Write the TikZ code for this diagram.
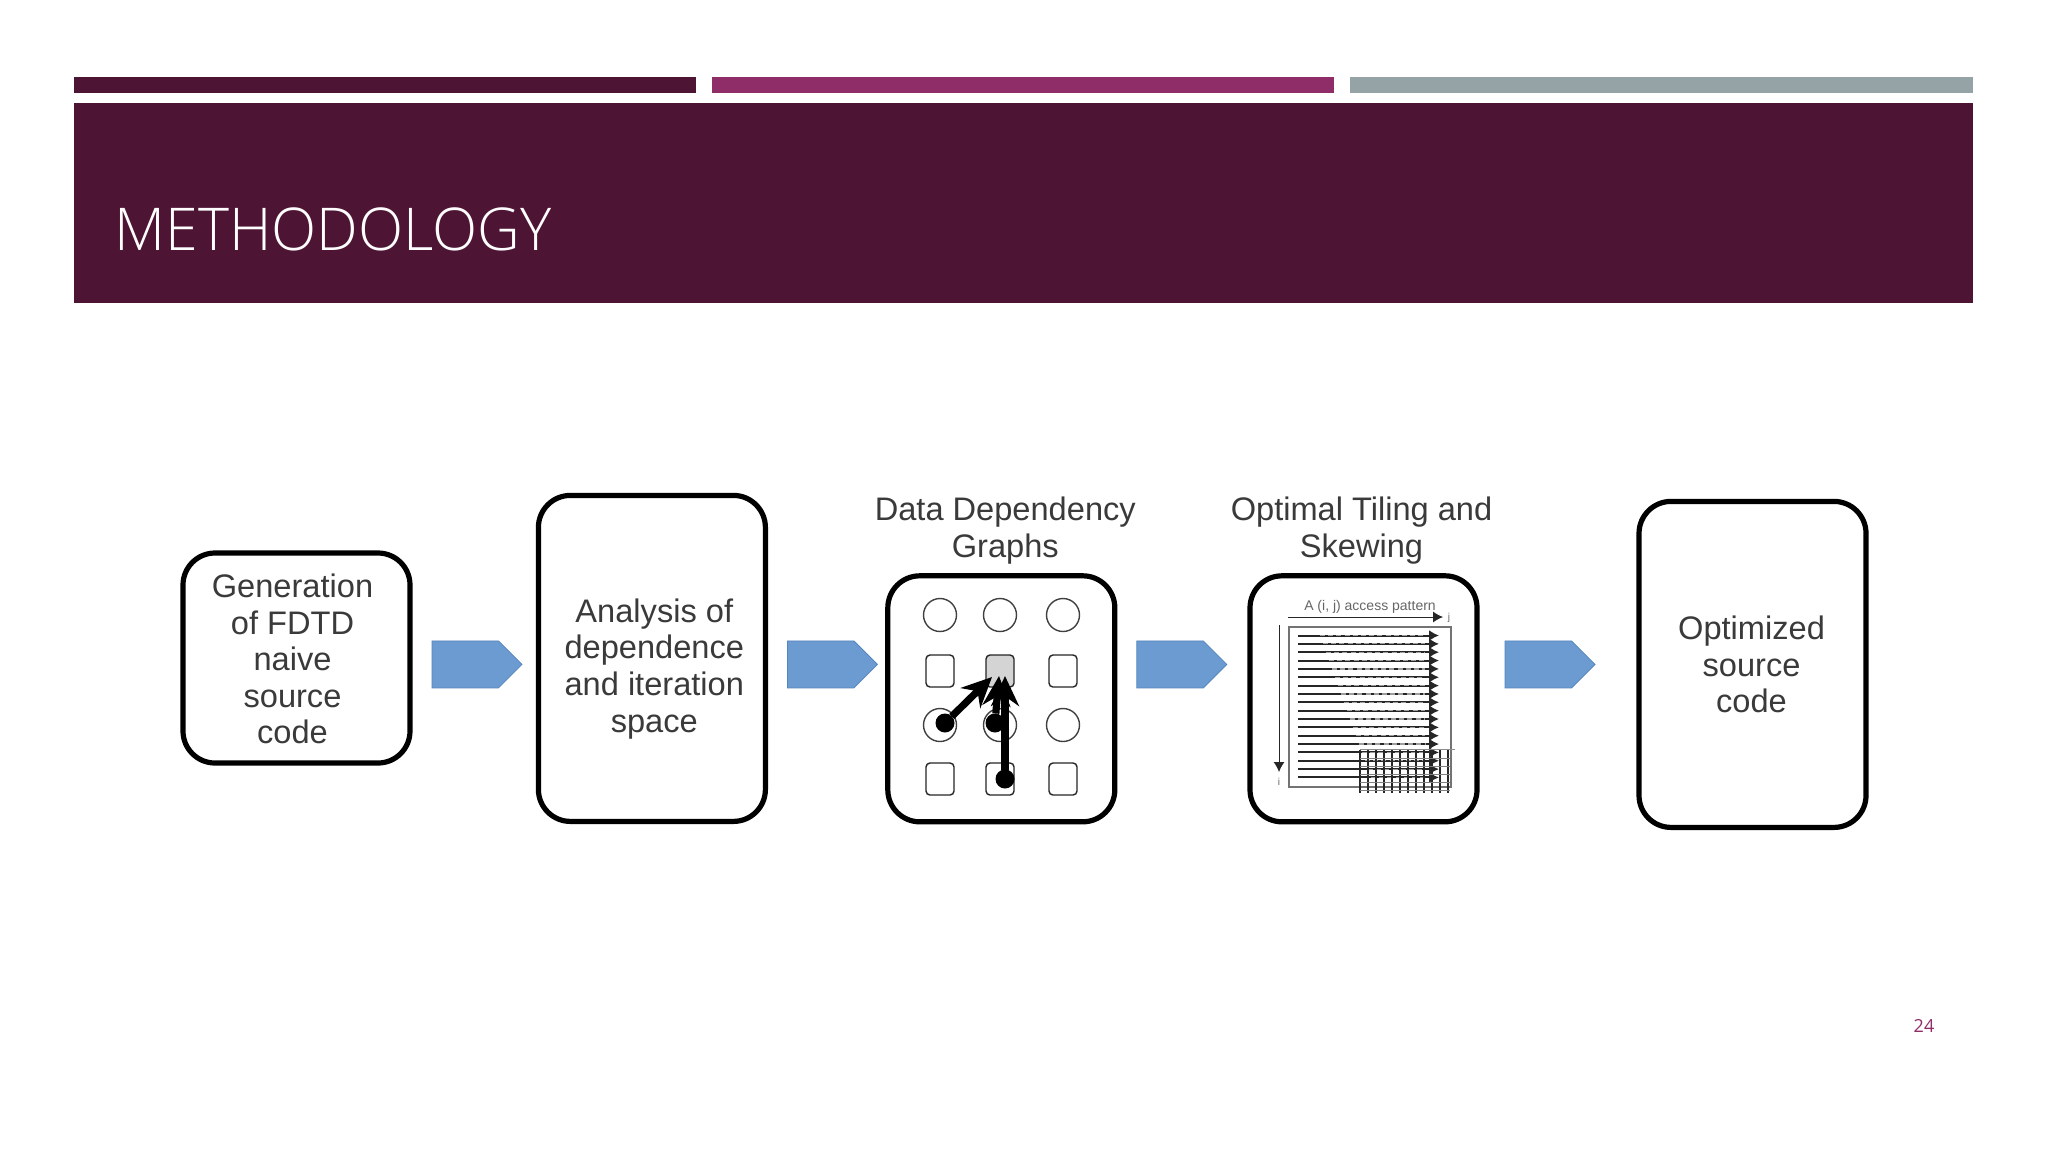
\documentclass[tikz,border=0pt]{standalone}
\usepackage{fontspec}
\setmainfont{Liberation Sans}
\newfontfamily\titlefont{Open Sans Light}
\newfontfamily\pagefont{Open Sans}
\usetikzlibrary{arrows.meta,positioning,shapes.symbols}
\definecolor{plumdark}{HTML}{4E1434}
\definecolor{plummid}{HTML}{8F2D68}
\definecolor{slategrey}{HTML}{95A3A6}
\definecolor{blockblue}{HTML}{6B9BD1}
\definecolor{blockedge}{HTML}{5585BD}
\definecolor{textgrey}{HTML}{3A3A3A}

\begin{document}
\begin{tikzpicture}[
    x=0.5pt, y=-0.5pt,
    every node/.style={font=\fontsize{16.3pt}{18.3pt}\selectfont, text=textgrey, outer sep=0pt},
    stage/.style={draw=black, line width=2.6pt, rounded corners=16pt, fill=white, inner sep=0pt, minimum width=113.5pt},
    words/.style={align=center},
    pointer/.style={signal, signal to=east, signal pointer angle=90, fill=blockblue, draw=blockedge, line width=0.4pt, inner sep=0pt, minimum width=45pt, minimum height=23.5pt},
    round/.style={circle, draw=black!75, line width=0.7pt, fill=white, inner sep=0pt, minimum size=16.5pt},
    cell/.style={draw=black!85, line width=0.7pt, rounded corners=2pt, fill=white, inner sep=0pt, minimum width=14pt, minimum height=16pt},
    dot/.style={circle, fill=black, inner sep=0pt, minimum size=9.5pt},
    depend/.style={-{Stealth[length=15pt,width=14pt]}, line width=3.6pt, black},
    trace/.style={-{Latex[length=5pt,width=5.5pt]}, line width=1pt, black!85},
    smear/.style={white, line width=0.6pt, opacity=0.55, dash pattern=on 2.5pt off 1.6pt}
]
\useasboundingbox[fill=white] (0,0) rectangle (2048,1152);
\fill[plumdark] (74,77) rectangle (696,93);
\fill[plummid] (712,77) rectangle (1334,93);
\fill[slategrey] (1350,77) rectangle (1973,93);
\fill[plumdark] (74,103) rectangle (1973,303);
\node[anchor=base west, text=white, font=\titlefont\fontsize{29.5pt}{36pt}\selectfont] (title) at (108,250) {METHODOLOGY};
\node[anchor=center, text=plummid, font=\pagefont\fontsize{9pt}{11pt}\selectfont] (page) at (1924,1026) {24};

\node[stage, minimum height=105pt] (generation) at (296.5,658) {};
\node[pointer, right=11pt of generation, yshift=-3.2pt] (pointera) {};
\node[stage, right=8.2pt of pointera, yshift=3pt, minimum height=163pt] (analysis) {};
\node[pointer, right=11pt of analysis, yshift=-3pt] (pointerb) {};
\node[stage, right=5.2pt of pointerb, yshift=-17.2pt, minimum height=123pt] (graphs) {};
\node[pointer, right=11pt of graphs, yshift=17.2pt] (pointerc) {};
\node[stage, right=11.6pt of pointerc, yshift=-17.2pt, minimum height=123pt] (tiling) {};
\node[pointer, right=14pt of tiling, yshift=17.2pt] (pointerd) {};
\node[stage, right=22pt of pointerd, minimum height=163pt] (optimized) {};

\node[words] (generationtext) at ([xshift=-2pt,yshift=-0.5pt]generation) {Generation\\of FDTD\\naive\\source\\code};
\node[words] (analysistext) at ([xshift=1.2pt,yshift=-5.2pt]analysis) {Analysis of\\dependence\\and iteration\\space};
\node[words] (optimizedtext) at ([xshift=-0.5pt]optimized) {Optimized\\source\\code};
\node[words, above=2.5pt of graphs, xshift=2pt] (graphslabel) {Data Dependency\\Graphs};
\node[words, above=2.5pt of tiling, xshift=-1pt] (tilinglabel) {Optimal Tiling and\\Skewing};

\foreach \name/\x/\y in {ca/940/615, cb/1000/615, cc/1063/615, cd/940/725, ce/1000/725, cf/1063/725}
    \node[round] (\name) at (\x,\y) {};
\foreach \name/\x/\y in {sa/940/671, sc/1063/671, sd/940/779, se/1000/779, sf/1063/779}
    \node[cell] (\name) at (\x,\y) {};
\node[cell, fill=black!17] (sb) at (1000,671) {};

\node[dot] (dota) at (945,723) {};
\node[dot] (dotb) at (995,723) {};
\node[dot] (dotc) at (1005,779) {};
\coordinate (tipa) at (992,677);
\coordinate (tipb) at (999,676);
\coordinate (tipc) at (1005,676);
\draw[depend] (dota) -- (tipa);
\draw[depend] (dotb) -- (tipb);
\draw[depend] (dotc) -- (tipc);

\node[font=\fontsize{7pt}{8pt}\selectfont, text=black!60] (accesslabel) at (1370,607) {A (i, j) access pattern};
\node[font=\fontsize{5pt}{6pt}\selectfont, text=black!60] (jlabel) at (1449,618) {j};
\node[font=\fontsize{5pt}{6pt}\selectfont, text=black!60] (ilabel) at (1279,782) {i};
\coordinate (jstart) at (1288,617);
\coordinate (jend) at (1443,617);
\coordinate (istart) at (1279,625);
\coordinate (iend) at (1279,772);
\draw[trace, line width=0.5pt] (jstart) -- (jend);
\draw[trace, line width=0.5pt] (istart) -- (iend);
\node[draw=black!55, line width=0.8pt, inner sep=0pt, minimum width=81pt, minimum height=80pt] (pattern) at (1370,707) {};
\foreach \row in {0,...,17} {
    \draw[trace] (1298,635.5+8.35*\row) -- (1439,635.5+8.35*\row);
    \draw[smear] (1320+\row*3,635.5+8.35*\row) -- (1425,635.5+8.35*\row);
}
\draw[black!45, line width=0.4pt] (1360,749) -- (1455,749);
\foreach \col in {0,...,11}
    \draw[black!85, line width=0.9pt] (1360+8*\col,750) -- (1360+8*\col,793);
\foreach \row in {0,...,4}
    \draw[black!50, line width=0.4pt] (1360,758+8*\row) -- (1450,758+8*\row);
\end{tikzpicture}
\end{document}
